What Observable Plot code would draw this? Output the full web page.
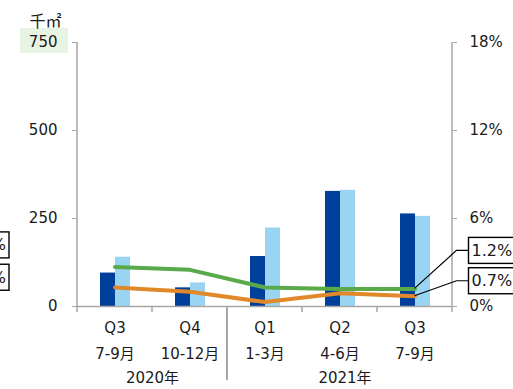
<!DOCTYPE html>
<html><head><meta charset="utf-8">
<script src="https://cdn.jsdelivr.net/npm/d3@7"></script>
<script src="https://cdn.jsdelivr.net/npm/@observablehq/plot@0.6"></script>
<style>
body{margin:0;background:#fff}
#chart svg{display:block;overflow:hidden}
</style></head><body><div id="chart"></div>
<script>
// Quarterly floor area (千㎡, left axis) and two rates (%, right axis)
const quarters = ["2020Q3", "2020Q4", "2021Q1", "2021Q2", "2021Q3"];
const quarterLabels = ["Q3", "Q4", "Q1", "Q2", "Q3"];
const monthLabels = ["7-9月", "10-12月", "1-3月", "4-6月", "7-9月"];
const years = ["2020年", "2021年"];
const areaDark = [95, 53, 142, 327, 263];
const areaLight = [140, 67, 223, 330, 256];
const rateGreen = [2.7, 2.5, 1.3, 1.2, 1.2];
const rateOrange = [1.3, 1.0, 0.3, 0.9, 0.7];
const leftTicks = [0, 250, 500, 750];
const rightMax = 18;
const unitLabel = "千㎡";

const C = {dark: "#00409a", light: "#99d5f3", green: "#5aaa4c", orange: "#e0882a", axis: "#a6a6a6", text: "#1a1a1a"};
const leftMax = 750;
const k = leftMax / rightMax; // percent -> left-axis units
const font = "'DejaVu Sans', 'Noto Sans CJK JP', sans-serif";

const rows = quarters.map((q, i) => ({q, i}));

const chart = Plot.plot({
  width: 513,
  height: 389,
  marginLeft: 77,
  marginRight: 61,
  marginTop: 42,
  marginBottom: 83,
  style: {fontFamily: font, fontSize: "15px", color: C.text, background: "#fff"},
  x: {domain: quarters, padding: 0, axis: null},
  y: {domain: [0, leftMax], axis: null},
  marks: [
    Plot.barY(rows, {x: "q", y: d => areaDark[d.i], fill: C.dark, insetLeft: 23, insetRight: 37}),
    Plot.barY(rows, {x: "q", y: d => areaLight[d.i], fill: C.light, insetLeft: 38, insetRight: 22}),
    Plot.ruleY([0], {stroke: C.axis, strokeWidth: 1.5}),
    Plot.axisY({anchor: "left", ticks: leftTicks, tickSize: 5, tickPadding: 15, stroke: C.axis, label: null, fill: C.text}),
    Plot.axisY({anchor: "right", ticks: leftTicks, tickSize: 4, tickPadding: 13, stroke: C.axis, label: null, fill: C.text,
      tickFormat: d => `${Math.round(d / k)}%`}),
    Plot.line(rows, {x: "q", y: d => rateGreen[d.i] * k, stroke: C.green, strokeWidth: 4}),
    Plot.line(rows, {x: "q", y: d => rateOrange[d.i] * k, stroke: C.orange, strokeWidth: 4}),
    Plot.text(rows, {x: "q", text: d => quarterLabels[d.i], frameAnchor: "bottom", dy: 26, fill: C.text}),
    Plot.text(rows, {x: "q", text: d => monthLabels[d.i], frameAnchor: "bottom", dy: 52, fill: C.text}),
    Plot.text([years[0]], {x: () => "2020Q4", text: d => d, frameAnchor: "bottom", dx: -37.5, dy: 76, fill: C.text}),
    Plot.text([years[1]], {x: () => "2021Q2", text: d => d, frameAnchor: "bottom", dx: 5, dy: 76, fill: C.text}),
    Plot.text([unitLabel], {text: d => d, frameAnchor: "top-left", textAnchor: "middle", dx: -32, dy: -27, fontSize: 16, fill: C.text})
  ]
});
document.getElementById("chart").append(chart);

// Annotations positioned through the chart's scales
const svg = d3.select(chart);
const sx = chart.scale("x"), sy = chart.scale("y");
const bw = sx.bandwidth;
const y0 = sy.apply(0);
const yTop = sy.apply(leftMax);
const xFirst = sx.apply(quarters[0]);
const xEnd = sx.apply(quarters[quarters.length - 1]) + bw;

// highlight behind the top left tick label
svg.insert("rect", "g")
  .attr("x", xFirst - 57).attr("y", yTop - 14)
  .attr("width", 48).attr("height", 25).attr("fill", "#e7f3e3");

// vertical axis lines
[xFirst, xEnd].forEach(ax => {
  svg.append("line").attr("x1", ax).attr("x2", ax).attr("y1", yTop).attr("y2", y0 + 1)
    .attr("stroke", C.axis).attr("stroke-width", 1.5);
});

// category boundary ticks and year separator
const bounds = quarters.map(q => sx.apply(q)).concat(xEnd);
bounds.forEach((bx, i) => {
  const isYear = i === 2;
  svg.append("line").attr("x1", bx).attr("x2", bx).attr("y1", y0).attr("y2", y0 + (isYear ? 74 : 6))
    .attr("stroke", C.axis).attr("stroke-width", isYear ? 2 : 1.5);
});

// value callouts
function callout(val, idx, side, off) {
  const px = sx.apply(quarters[idx]) + bw / 2;
  const py = sy.apply(val * k);
  const cy = py + off;
  const w = 48, h = 26;
  const g = svg.append("g");
  let left;
  if (side === "right") {
    left = px + 54;
    g.append("polyline").attr("points", `${px},${py} ${px + 42},${cy} ${left},${cy}`)
      .attr("fill", "none").attr("stroke", "#000").attr("stroke-width", 1.2);
  } else {
    left = px - 105.5 - w;
  }
  g.append("rect").attr("x", left).attr("y", cy - h / 2).attr("width", w).attr("height", h)
    .attr("fill", "#fff").attr("stroke", "#000").attr("stroke-width", 1.4);
  g.append("text").attr("x", side === "right" ? left + 3 : left + w - 3).attr("y", cy)
    .attr("text-anchor", side === "right" ? "start" : "end")
    .attr("dominant-baseline", "central")
    .attr("font-family", font).attr("font-size", 16).attr("fill", C.text)
    .text(`${val.toFixed(1)}%`);
}
const last = quarters.length - 1;
callout(rateGreen[last], last, "right", -38);
callout(rateOrange[last], last, "right", -15);
callout(rateGreen[0], 0, "left", -21.5);
callout(rateOrange[0], 0, "left", -9.7);
</script>
</body></html>
